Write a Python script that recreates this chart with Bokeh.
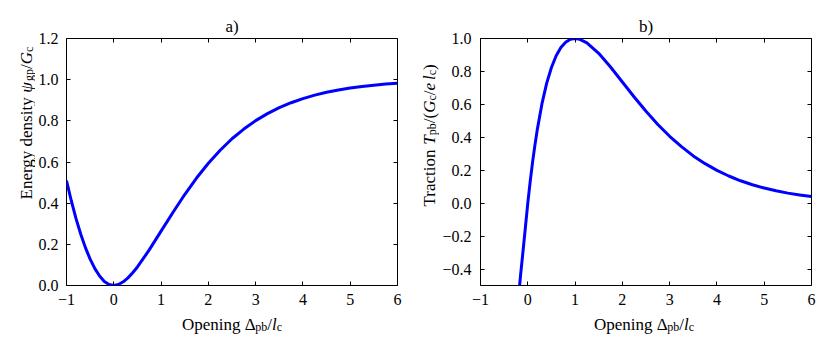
from math import pi
from bokeh.plotting import figure
from bokeh.models import Label, LinearAxis, FixedTicker, CustomJSTickFormatter, Range1d
from bokeh.layouts import row, column
from bokeh.embed import file_html
from bokeh.resources import INLINE

# ---------------- data ----------------
opening_a = [-1.0, -0.9, -0.8, -0.7, -0.6, -0.5, -0.4, -0.3, -0.2, -0.1, 0.0,
             0.1, 0.2, 0.3, 0.4, 0.5, 0.75, 1.0, 1.25, 1.5, 1.75, 2.0, 2.25,
             2.5, 2.75, 3.0, 3.25, 3.5, 3.75, 4.0, 4.25, 4.5, 4.75, 5.0, 5.25, 5.5, 5.75, 6.0]
energy = [0.51, 0.413, 0.326, 0.25, 0.184, 0.128, 0.082, 0.046, 0.02, 0.005, 0.0,
          0.005, 0.018, 0.037, 0.062, 0.09, 0.173, 0.264, 0.355, 0.442, 0.522, 0.594, 0.657,
          0.713, 0.760, 0.801, 0.835, 0.864, 0.888, 0.908, 0.925, 0.939, 0.950, 0.960, 0.967,
          0.973, 0.9785, 0.983]

opening_b = [-0.2, -0.15, -0.1, -0.05, 0.0, 0.05, 0.1, 0.15, 0.2, 0.3, 0.4, 0.5,
             0.6, 0.7, 0.8, 0.9, 1.0, 1.1, 1.25, 1.5, 1.75, 2.0, 2.25, 2.5, 2.75,
             3.0, 3.25, 3.5, 3.75, 4.0, 4.25, 4.5, 4.75, 5.0, 5.25, 5.5, 5.75, 6.0]
traction = [-0.58, -0.43, -0.29, -0.145, 0.0, 0.129, 0.246, 0.351, 0.445, 0.604, 0.729, 0.824,
            0.895, 0.945, 0.977, 0.995, 1.0, 0.995, 0.974, 0.910, 0.827, 0.736, 0.645, 0.558, 0.478,
            0.406, 0.343, 0.287, 0.240, 0.199, 0.165, 0.136, 0.112, 0.092, 0.075, 0.061, 0.050, 0.040]

x_ticks = [-1, 0, 1, 2, 3, 4, 5, 6]
energy_ticks = [0.0, 0.2, 0.4, 0.6, 0.8, 1.0, 1.2]
traction_ticks = [-0.4, -0.2, 0.0, 0.2, 0.4, 0.6, 0.8, 1.0]

titles = ["a)", "b)"]
xlabel_parts = [("Opening ", "r"), ("Δ", "r"), ("pb", "s"), ("/", "r"), ("l", "i"), ("c", "s")]
ylabel_a_parts = [("Energy density ", "r"), ("ψ", "i"), ("gp", "s"), ("/", "r"), ("G", "i"), ("c", "s")]
ylabel_b_parts = [("Traction ", "r"), ("T", "i"), ("pb", "s"), ("/(", "r"), ("G", "i"), ("c", "s"),
                  ("/", "r"), ("e", "i"), ("\u2009", "r"), ("l", "i"), ("c", "s"), (")", "r")]

# ---------------- styling ----------------
FONT = "Liberation Serif"
TICK_SIZE = 16
LAB_SIZE = 17
SUB_SIZE = 12
SUB_DROP = 2.5
LINE_COLOR = "#0000ff"
FW, FH = 331, 247
TOP, BOTTOM = 38, 27          # border above / below the frame in the main figures
XLAB_H = 26                   # height of the strip that carries the x label

# approximate advance widths (em) for Liberation Serif
W_R = {' ': 0.25, '(': 0.333, ')': 0.333, '/': 0.278, 'a': 0.444, 'b': 0.5, 'c': 0.444,
       'd': 0.5, 'e': 0.444, 'g': 0.5, 'i': 0.278, 'n': 0.5, 'o': 0.5, 'p': 0.5, 'r': 0.333,
       's': 0.389, 't': 0.278, 'y': 0.5, 'E': 0.611, 'O': 0.722, 'T': 0.611, 'Δ': 0.62,
       '\u2009': 0.17}
W_I = {'G': 0.722, 'l': 0.278, 'T': 0.556, 'e': 0.444, 'ψ': 0.69}


def piece_width(text, kind):
    if kind == "i":
        return sum(W_I.get(ch, 0.5) for ch in text) * LAB_SIZE
    size = SUB_SIZE if kind == "s" else LAB_SIZE
    return sum(W_R.get(ch, 0.5) for ch in text) * size


def total_width(parts):
    return sum(piece_width(t, k) for t, k in parts)


def make_label(text, x, y, size, style="normal", angle=0.0, align="left"):
    lab = Label(x=x, y=y, x_units="screen", y_units="screen", text=text, angle=angle,
                text_align=align, text_baseline="alphabetic")
    lab.text_font = FONT
    lab.text_font_size = f"{size}px"
    lab.text_font_style = style
    lab.text_color = "black"
    return lab


def add_composite(p, parts, start, base, vertical=False):
    pos = start
    for text, kind in parts:
        size = SUB_SIZE if kind == "s" else LAB_SIZE
        drop = SUB_DROP if kind == "s" else 0.0
        style = "italic" if kind == "i" else "normal"
        if vertical:
            lab = make_label(text, base + drop, pos, size, style, angle=pi / 2)
        else:
            lab = make_label(text, pos, base - drop, size, style)
        p.add_layout(lab)
        pos += piece_width(text, kind)


def blank_fig(w, h):
    f = figure(width=w, height=h, x_range=Range1d(0, 1), y_range=Range1d(0, 1),
               output_backend="svg", toolbar_location=None,
               x_axis_location=None, y_axis_location=None,
               min_border=0, min_border_left=0, min_border_right=0,
               min_border_top=0, min_border_bottom=0)
    f.grid.visible = False
    f.outline_line_color = None
    f.background_fill_color = "white"
    f.border_fill_color = "white"
    return f


fmt_int = CustomJSTickFormatter(code="return (tick < -1e-9 ? '\\u2212' : '') + Math.abs(tick).toFixed(0);")
fmt_one = CustomJSTickFormatter(code="return (tick < -1e-9 ? '\\u2212' : '') + Math.abs(tick).toFixed(1);")
fmt_none = CustomJSTickFormatter(code="return '';")


def style_axis(ax, ticks, fmt, standoff):
    ax.ticker = FixedTicker(ticks=ticks)
    ax.formatter = fmt
    ax.major_tick_in = 4
    ax.major_tick_out = 0
    ax.minor_tick_in = 0
    ax.minor_tick_out = 0
    ax.major_tick_line_color = "black"
    ax.major_tick_line_width = 1
    ax.axis_line_color = None
    ax.major_label_text_font = FONT
    ax.major_label_text_font_size = f"{TICK_SIZE}px"
    ax.major_label_text_color = "black"
    ax.major_label_standoff = standoff


def make_panel(xs, ys, y_lo, y_hi, y_ticks, title, ylabel_parts,
               ylab_w, ylab_base, ylab_start, border_left, border_right, y_standoff):
    p = figure(frame_width=FW, frame_height=FH,
               x_range=Range1d(-1, 6), y_range=Range1d(y_lo, y_hi),
               output_backend="svg", toolbar_location=None,
               min_border_left=border_left, min_border_right=border_right,
               min_border_top=TOP, min_border_bottom=BOTTOM)
    p.grid.visible = False
    p.outline_line_color = "black"
    p.outline_line_width = 1
    p.background_fill_color = "white"
    p.border_fill_color = "white"

    style_axis(p.xaxis[0], x_ticks, fmt_int, 8)
    style_axis(p.yaxis[0], y_ticks, fmt_one, y_standoff)
    top = LinearAxis()
    style_axis(top, x_ticks, fmt_none, 0)
    right = LinearAxis()
    style_axis(right, y_ticks, fmt_none, 0)
    p.add_layout(top, "above")
    p.add_layout(right, "right")

    p.title.text = title
    p.title.align = "center"
    p.title.text_font = FONT
    p.title.text_font_size = f"{LAB_SIZE}px"
    p.title.text_font_style = "normal"
    p.title.text_color = "black"
    p.title.standoff = 6

    p.line(xs, ys, line_color=LINE_COLOR, line_width=3, line_join="round")

    # rotated y label strip to the left of the figure
    ylab = blank_fig(ylab_w, TOP + FH + BOTTOM)
    add_composite(ylab, ylabel_parts, ylab_start, ylab_base, vertical=True)

    # x label strip below
    total_w = ylab_w + border_left + FW + border_right
    xlab = blank_fig(total_w, XLAB_H)
    centre = ylab_w + border_left + FW / 2
    add_composite(xlab, xlabel_parts, centre - total_width(xlabel_parts) / 2, 14)

    return column(row(ylab, p), xlab)


# panel a: y label baseline near x=26, text starts 59 px above the frame bottom
panel_a = make_panel(opening_a, energy, 0.0, 1.2, energy_ticks, titles[0], ylabel_a_parts,
                     35, 26, BOTTOM + 59, 31, 13, 8)
# panel b: y label baseline 49 px left of the frame, starts 52 px above frame bottom
panel_b = make_panel(opening_b, traction, -0.5, 1.0, traction_ticks, titles[1], ylabel_b_parts,
                     29, 19, BOTTOM + 52, 39, 9, 9)

layout = row(panel_a, panel_b)
open("out.html", "w", encoding="utf-8").write(file_html(layout, INLINE))
